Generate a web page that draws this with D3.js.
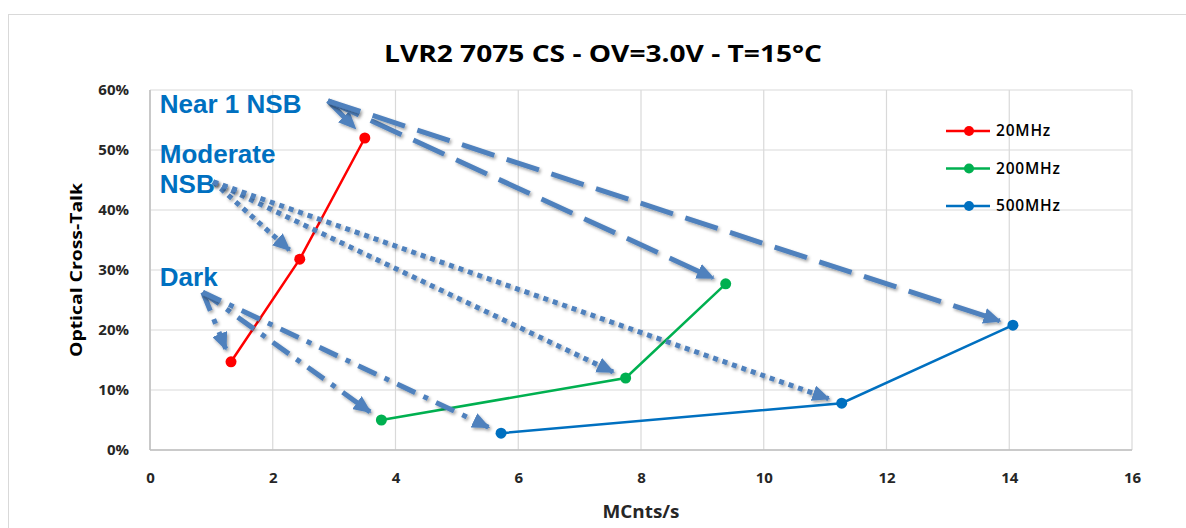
<!DOCTYPE html>
<html>
<head>
<meta charset="utf-8">
<script src="https://cdn.jsdelivr.net/npm/d3@7"></script>
<style>
	body { margin: 0; background: #fff; }
	svg { display: block; }
</style>
</head>
<body>
<svg id="chart"></svg>
<script>
// data
const seriesNames = ['20MHz', '200MHz', '500MHz'];
const seriesColors = ['#FF0000', '#00B050', '#0070C0'];
const rate20 = [1.32, 2.44, 3.5];
const xtalk20 = [0.147, 0.318, 0.52];
const rate200 = [3.77, 7.75, 9.38];
const xtalk200 = [0.05, 0.12, 0.277];
const rate500 = [5.72, 11.27, 14.06];
const xtalk500 = [0.028, 0.078, 0.208];
const xTicks = [0, 2, 4, 6, 8, 10, 12, 14, 16];
const yTicks = [0, 0.1, 0.2, 0.3, 0.4, 0.5, 0.6];

// annotation labels: text lines, where they sit (data units), and which point of each series they point at
const noteNames = ['Near 1 NSB', 'Moderate NSB', 'Dark'];
const noteLines = [['Near 1 NSB'], ['Moderate', 'NSB'], ['Dark']];
const noteTextAt = [[0.16, 0.562], [0.16, 0.479], [0.16, 0.273]];
const noteStartAt = [[2.9, 0.582], [1.03, 0.447], [0.86, 0.263]];
const notePointIndex = [2, 1, 0];

const width = 1186, height = 528;
const margin = { top: 90, right: 54, bottom: 78, left: 150 };

const svg = d3.select('#chart')
	.attr('width', width)
	.attr('height', height)
	.style('font-family', 'Liberation Sans, Arial, sans-serif');

const x = d3.scaleLinear([0, 16], [margin.left, width - margin.right]);
const y = d3.scaleLinear([0, 0.6], [height - margin.bottom, margin.top]);

const series = [
	{ name: seriesNames[0], color: seriesColors[0], pts: rate20.map((r, i) => [r, xtalk20[i]]) },
	{ name: seriesNames[1], color: seriesColors[1], pts: rate200.map((r, i) => [r, xtalk200[i]]) },
	{ name: seriesNames[2], color: seriesColors[2], pts: rate500.map((r, i) => [r, xtalk500[i]]) },
];

// chart frame
svg.append('rect')
	.attr('x', 8.5).attr('y', 14.5)
	.attr('width', width + 20).attr('height', height + 20)
	.style('fill', 'none')
	.style('stroke', '#D9D9D9');

const defs = svg.append('defs');
const shadow = defs.append('filter').attr('id', 'shadow')
	.attr('x', '-20%').attr('y', '-20%').attr('width', '140%').attr('height', '140%');
shadow.append('feDropShadow')
	.attr('dx', 1.5).attr('dy', 2).attr('stdDeviation', 1.5)
	.attr('flood-color', '#000').attr('flood-opacity', 0.35);
defs.append('marker')
	.attr('id', 'head')
	.attr('markerUnits', 'userSpaceOnUse')
	.attr('viewBox', '0 0 18 16')
	.attr('refX', 16).attr('refY', 8)
	.attr('markerWidth', 18).attr('markerHeight', 16)
	.attr('orient', 'auto')
	.append('path')
	.attr('d', 'M0,0 L18,8 L0,16 z')
	.style('fill', '#4F81BD');

// grid
const grid = svg.append('g').attr('class', 'grid');
grid.selectAll('line.v').data(xTicks).join('line').attr('class', 'v')
	.attr('x1', d => x(d)).attr('x2', d => x(d))
	.attr('y1', y(0.6)).attr('y2', y(0))
	.style('stroke', '#D9D9D9').style('stroke-width', 1.2);
grid.selectAll('line.h').data(yTicks).join('line').attr('class', 'h')
	.attr('x1', x(0)).attr('x2', x(16))
	.attr('y1', d => y(d)).attr('y2', d => y(d))
	.style('stroke', '#D9D9D9').style('stroke-width', 1.2);
svg.append('line')
	.attr('x1', x(0)).attr('x2', x(16)).attr('y1', y(0)).attr('y2', y(0))
	.style('stroke', '#BFBFBF').style('stroke-width', 1.5);
svg.append('line')
	.attr('x1', x(0)).attr('x2', x(0)).attr('y1', y(0)).attr('y2', y(0.6))
	.style('stroke', '#BFBFBF').style('stroke-width', 1.5);

// axes
const xAxis = svg.append('g')
	.attr('transform', `translate(0,${y(0) + 28})`)
	.call(d3.axisBottom(x).tickValues(xTicks).tickSize(0).tickFormat(d3.format('d')));
const yAxis = svg.append('g')
	.attr('transform', `translate(${x(0) - 18},0)`)
	.call(d3.axisLeft(y).tickValues(yTicks).tickSize(0).tickFormat(d3.format('.0%')));
[xAxis, yAxis].forEach(a => {
	a.select('.domain').remove();
	a.selectAll('text')
		.style('font-family', 'Open Sans, sans-serif')
		.style('font-weight', 'bold')
		.style('font-size', '15px')
		.style('fill', '#262626');
});
xAxis.selectAll('text').attr('dy', '0.35em').attr('y', 0);

svg.append('text')
	.attr('x', x(8)).attr('y', 518)
	.attr('text-anchor', 'middle')
	.attr('textLength', 77).attr('lengthAdjust', 'spacingAndGlyphs')
	.style('font-family', 'Open Sans, sans-serif')
	.style('font-weight', 'bold').style('font-size', '17px')
	.style('fill', '#262626')
	.text('MCnts/s');
svg.append('text')
	.attr('transform', `translate(82,${y(0.3)}) rotate(-90)`)
	.attr('text-anchor', 'middle')
	.attr('textLength', 174).attr('lengthAdjust', 'spacingAndGlyphs')
	.style('font-family', 'Open Sans, sans-serif')
	.style('font-weight', 'bold').style('font-size', '16px')
	.style('fill', '#000')
	.text('Optical Cross-Talk');

// title
svg.append('text')
	.attr('x', 603).attr('y', 62)
	.attr('text-anchor', 'middle')
	.attr('textLength', 438).attr('lengthAdjust', 'spacingAndGlyphs')
	.style('font-family', 'Open Sans, sans-serif')
	.style('font-weight', 'bold').style('font-size', '24px')
	.style('fill', '#000')
	.text('LVR2 7075 CS - OV=3.0V - T=15°C');

// series
const line = d3.line().x(d => x(d[0])).y(d => y(d[1]));
const sg = svg.selectAll('g.series').data(series).join('g').attr('class', 'series');
sg.append('path')
	.attr('d', d => line(d.pts))
	.style('fill', 'none')
	.style('stroke', d => d.color)
	.style('stroke-width', 2.5);
sg.selectAll('circle').data(d => d.pts.map(p => [p, d.color])).join('circle')
	.attr('cx', d => x(d[0][0])).attr('cy', d => y(d[0][1]))
	.attr('r', 5.5)
	.style('fill', d => d[1]);

// legend
const legend = svg.append('g').attr('transform', 'translate(946,131)');
const li = legend.selectAll('g').data(series).join('g')
	.attr('transform', (d, i) => `translate(0,${i * 37.5})`);
li.append('line').attr('x1', 0).attr('x2', 44)
	.style('stroke', d => d.color).style('stroke-width', 2.5);
li.append('circle').attr('cx', 23).attr('r', 5).style('fill', d => d.color);
li.append('text')
	.attr('x', 50).attr('dy', '0.35em')
	.style('font-family', 'Open Sans, sans-serif')
	.style('font-size', '15.5px').style('font-weight', 600)
	.style('letter-spacing', '0.8px')
	.style('fill', '#000')
	.text(d => d.name);

// annotations
const dashes = ['34,13', '5,5', '20,9,5,9'];
const notes = noteNames.map((name, i) => ({
	name,
	lines: noteLines[i],
	textAt: noteTextAt[i],
	start: noteStartAt[i],
	targets: series.map(s => s.pts[notePointIndex[i]]),
	dash: dashes[i],
}));
const trim = (a, b, len) => {
	const dx = b[0] - a[0], dy = b[1] - a[1];
	const l = Math.hypot(dx, dy);
	return [b[0] - dx / l * len, b[1] - dy / l * len];
};
const ng = svg.selectAll('g.note').data(notes).join('g').attr('class', 'note');
ng.selectAll('line').data(d => d.targets.map(t => {
	const a = [x(d.start[0]), y(d.start[1])];
	const b = trim(a, [x(t[0]), y(t[1])], 14);
	return { a, b, dash: d.dash };
})).join('line')
	.attr('x1', d => d.a[0]).attr('y1', d => d.a[1])
	.attr('x2', d => d.b[0]).attr('y2', d => d.b[1])
	.attr('marker-end', 'url(#head)')
	.attr('filter', 'url(#shadow)')
	.style('stroke', '#4F81BD')
	.style('stroke-width', 5)
	.style('stroke-dasharray', d => d.dash);
ng.selectAll('text').data(d => d.lines.map((t, k) => ({ t, k, at: d.textAt }))).join('text')
	.attr('x', d => x(d.at[0]))
	.attr('y', d => y(d.at[1]) + d.k * 30)
	.style('font-family', 'Liberation Sans, Arial, sans-serif')
	.style('font-weight', 'bold').style('font-size', '26px')
	.style('fill', '#0070C0')
	.text(d => d.t);
</script>
</body>
</html>
